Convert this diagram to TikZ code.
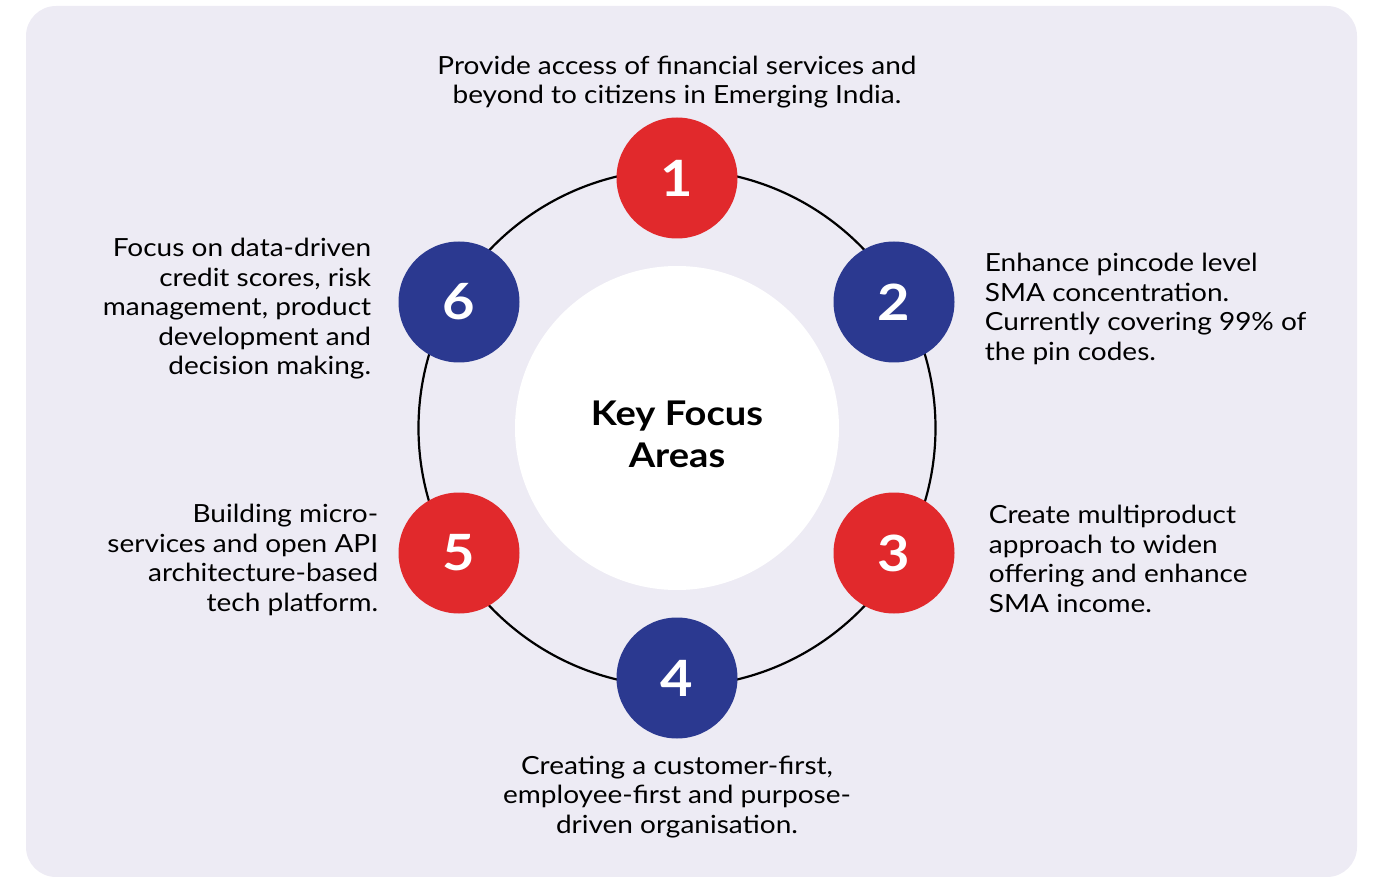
\documentclass[tikz,border=0pt]{standalone}
\usepackage{fontspec}
\setmainfont{Lato}[FakeStretch=1.12]
\usetikzlibrary{positioning}
\definecolor{panel}{HTML}{EDEBF4}
\definecolor{kred}{HTML}{E1292C}
\definecolor{kblue}{HTML}{2B3990}

\begin{document}
\begin{tikzpicture}[x=1pt,y=-1pt,
		num/.style={circle, minimum size=121pt, inner sep=0pt, text=white, font=\fontsize{50}{50}\selectfont\bfseries},
		red/.style={num, fill=kred},
		blue/.style={num, fill=kblue},
		txt/.style={inner sep=0pt, font=\fontsize{25}{29.5}\selectfont}]
				\useasboundingbox (0,0) rectangle (1374,877);
				\fill[panel, rounded corners=30pt] (26,6) rectangle (1357,877);
				\coordinate (c) at (677,428);
				\draw[line width=2.2pt] (c) circle (258.5pt);
				\node[circle, fill=white, minimum size=324pt] (core) at (c) {};
				\node[align=center, font=\fontsize{34}{42}\selectfont\bfseries] (title) at (677,434) {Key Focus\\Areas};
				\node[red] (n1) at (677,178) {1};
				\node[blue] (n2) at (894,302) {2};
				\node[red] (n3) at (894,553) {3};
				\node[blue] (n4) at (677,678) {4};
				\node[red] (n5) at (459,553) {5};
				\node[blue] (n6) at (459,302) {6};
				\node[txt, align=center, above=9pt of n1] (t1) {Provide access of financial services and\\beyond to citizens in Emerging India.};
				\node[txt, align=left, right=30pt of n2, yshift=-7pt] (t2) {Enhance pincode level\\SMA concentration.\\Currently covering 99\% of\\the pin codes.};
				\node[txt, align=left, right=34pt of n3, yshift=-6pt] (t3) {Create multiproduct\\approach to widen\\offering and enhance\\SMA income.};
				\node[txt, align=center, below=17pt of n4] (t4) {Creating a customer-first,\\employee-first and purpose-\\driven organisation.};
				\node[txt, align=right, left=20pt of n5, yshift=-7pt] (t5) {Building micro-\\services and open API\\architecture-based\\tech platform.};
				\node[txt, align=right, left=27pt of n6, yshift=-7pt] (t6) {Focus on data-driven\\credit scores, risk\\management, product\\development and\\decision making.};
			\end{tikzpicture}
\end{document}
